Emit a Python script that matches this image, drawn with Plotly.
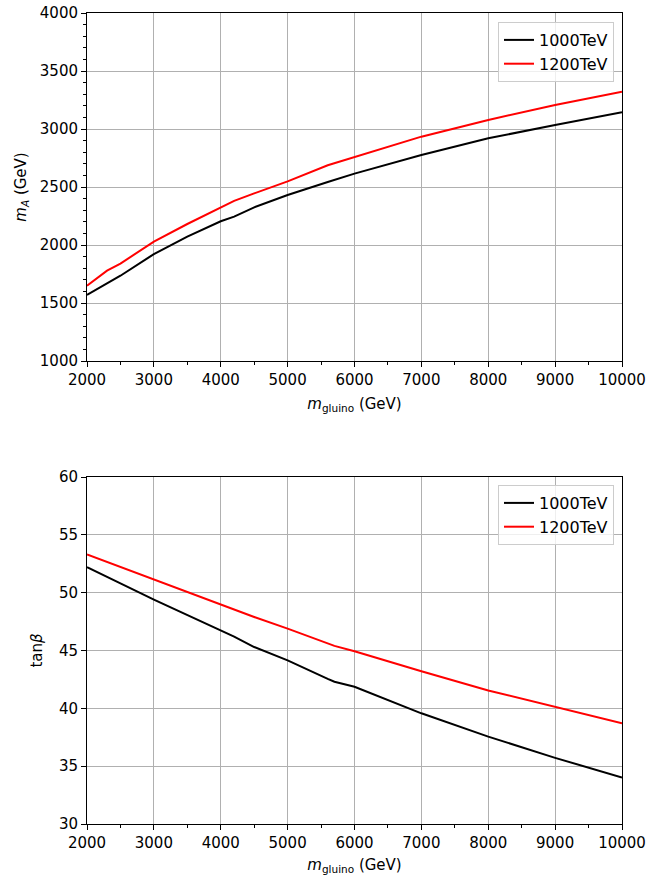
import plotly.graph_objects as go

# data
x_gluino = [2000, 2300, 2500, 3000, 3500, 4000, 4200, 4500, 5000, 5600, 5700, 6000, 7000, 8000, 9000, 10000]
mA_1000 = [1569, 1670, 1735, 1922, 2072, 2205, 2245, 2325, 2431, 2543, 2562, 2615, 2776, 2920, 3034, 3144]
mA_1200 = [1649, 1779, 1840, 2029, 2181, 2325, 2380, 2445, 2549, 2687, 2705, 2759, 2934, 3078, 3207, 3322]
tb_1000 = [52.2, 51.4, 50.8, 49.4, 48.04, 46.7, 46.2, 45.3, 44.15, 42.55, 42.3, 41.87, 39.57, 37.55, 35.72, 34.02]
tb_1200 = [53.3, 52.65, 52.2, 51.12, 50.06, 48.96, 48.5, 47.9, 46.89, 45.58, 45.4, 44.94, 43.2, 41.55, 40.1, 38.7]

labels = ["1000TeV", "1200TeV"]
colors = ["black", "red"]

FONT = "DejaVu Sans"
W, H = 661, 875


def px_x(p):
    return p / W


def px_y(p):
    return 1 - p / H


fig = go.Figure()

for i, (ys, lab) in enumerate(zip([mA_1000, mA_1200], labels)):
    fig.add_trace(go.Scatter(x=x_gluino, y=ys, mode="lines", name=lab,
                             line=dict(color=colors[i], width=2),
                             xaxis="x", yaxis="y", legend="legend"))
for i, (ys, lab) in enumerate(zip([tb_1000, tb_1200], labels)):
    fig.add_trace(go.Scatter(x=x_gluino, y=ys, mode="lines", name=lab,
                             line=dict(color=colors[i], width=2),
                             xaxis="x2", yaxis="y2", legend="legend2"))

axis_common = dict(showline=True, linecolor="black", linewidth=1, mirror=True,
                   ticks="outside", ticklen=5, tickwidth=1, tickcolor="black",
                   showgrid=True, gridcolor="#b0b0b0", gridwidth=1, zeroline=False,
                   automargin=False, tickformat="d",
                   tickfont=dict(family=FONT, size=15, color="black"))

xtitle = dict(text="<i>m</i><sub>gluino</sub> (GeV)", font=dict(family=FONT, size=15, color="black"), standoff=10)

fig.update_layout(
    width=W, height=H,
    margin=dict(l=0, r=0, t=0, b=0, autoexpand=False),
    paper_bgcolor="white", plot_bgcolor="white",
    font=dict(family=FONT, size=15, color="black"),
    xaxis=dict(domain=[px_x(87), px_x(622)], anchor="y", range=[2000, 10000], dtick=1000,
               minor=dict(dtick=500, ticks="outside", ticklen=3, tickcolor="black", showgrid=False),
               title=xtitle, **axis_common),
    yaxis=dict(domain=[px_y(361), px_y(13)], anchor="x", range=[1000, 4000], dtick=500,
               minor=dict(dtick=100, ticks="outside", ticklen=3, tickcolor="black", showgrid=False),
               title=dict(text="<i>m</i><sub><i>A</i></sub> (GeV)", font=dict(family=FONT, size=15, color="black"), standoff=9),
               **axis_common),
    xaxis2=dict(domain=[px_x(87), px_x(622)], anchor="y2", range=[2000, 10000], dtick=1000,
                minor=dict(dtick=500, ticks="outside", ticklen=3, tickcolor="black", showgrid=False),
                title=xtitle, **axis_common),
    yaxis2=dict(domain=[px_y(824), px_y(477)], anchor="x2", range=[30, 60], dtick=5,
                title=dict(text="tan<i>β</i>", font=dict(family=FONT, size=15, color="black"), standoff=12),
                **axis_common),
    legend=dict(x=px_x(614), y=px_y(22), xanchor="right", yanchor="top",
                bgcolor="rgba(255,255,255,0.8)", bordercolor="#cccccc", borderwidth=1,
                font=dict(family=FONT, size=16, color="black")),
    legend2=dict(x=px_x(614), y=px_y(485), xanchor="right", yanchor="top",
                 bgcolor="rgba(255,255,255,0.8)", bordercolor="#cccccc", borderwidth=1,
                 font=dict(family=FONT, size=16, color="black")),
)

fig.write_html("out.html", config={"displayModeBar": False},
               post_script="document.body.style.margin='0';document.body.style.overflow='hidden';")
